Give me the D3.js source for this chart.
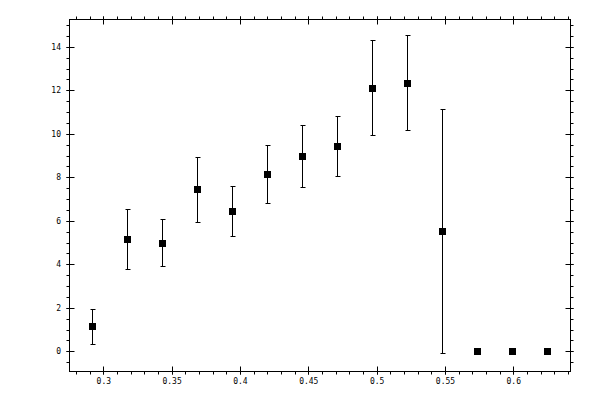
<!DOCTYPE html>
<html>
<head>
<meta charset="utf-8">
<script src="https://cdn.jsdelivr.net/npm/d3@7"></script>
<style>
  body { margin: 0; background: #fff; }
  svg { display: block; }
  text { font-family: "DejaVu Sans Mono", monospace; font-size: 8px; fill: #000; }
</style>
</head>
<body>
<div id="vis"></div>
<script>
//data
const X_VALUES = [0.292, 0.3176, 0.3432, 0.3688, 0.3944, 0.42, 0.4456, 0.4712, 0.4968, 0.5224, 0.548, 0.5736, 0.5992, 0.6248];
const Y_VALUES = [1.15, 5.15, 4.97, 7.45, 6.44, 8.14, 8.97, 9.43, 12.09, 12.32, 5.53, 0, 0, 0];
const ERR_LOW = [0.32, 3.78, 3.91, 5.93, 5.29, 6.82, 7.54, 8.05, 9.93, 10.16, -0.07, null, null, null];
const ERR_HIGH = [1.96, 6.53, 6.07, 8.93, 7.59, 9.47, 10.39, 10.80, 14.30, 14.53, 11.13, null, null, null];
const X_TICKS = [0.3, 0.35, 0.4, 0.45, 0.5, 0.55, 0.6];
const X_TICK_LABELS = ["0.3", "0.35", "0.4", "0.45", "0.5", "0.55", "0.6"];
const Y_TICKS = [0, 2, 4, 6, 8, 10, 12, 14];

//frame
const FRAME_WIDTH = 600;
const FRAME_HEIGHT = 400;
const MARGINS = {left: 69, right: 30, top: 19, bottom: 29};
const VIS_WIDTH = FRAME_WIDTH - MARGINS.left - MARGINS.right;
const VIS_HEIGHT = FRAME_HEIGHT - MARGINS.top - MARGINS.bottom;

const FRAME = d3.select("#vis")
  .append("svg")
  .attr("width", FRAME_WIDTH)
  .attr("height", FRAME_HEIGHT);

const X_SCALE = d3.scaleLinear()
  .domain([0.2749, 0.6415])
  .range([MARGINS.left, MARGINS.left + VIS_WIDTH]);

const Y_SCALE = d3.scaleLinear()
  .domain([-0.906, 15.28])
  .range([MARGINS.top + VIS_HEIGHT, MARGINS.top]);

const x0 = MARGINS.left, x1 = MARGINS.left + VIS_WIDTH;
const y0 = MARGINS.top + VIS_HEIGHT, y1 = MARGINS.top;

//box
FRAME.append("rect")
  .attr("x", x0 + 0.5).attr("y", y1 + 0.5)
  .attr("width", VIS_WIDTH).attr("height", VIS_HEIGHT)
  .attr("fill", "none").attr("stroke", "#000").attr("stroke-width", 1);

//minor ticks, outward
const X_MINOR = d3.range(28, 65).map((d) => d / 100);
const Y_MINOR = d3.range(-1, 31).map((d) => d / 2).filter((d) => d > -0.906 && d < 15.28);
const ticks = FRAME.append("g").attr("stroke", "#000").attr("stroke-width", 1);

X_MINOR.forEach((v) => {
  const px = Math.round(X_SCALE(v)) + 0.5;
  ticks.append("line").attr("x1", px).attr("x2", px).attr("y1", y0 + 0.5).attr("y2", y0 + 3.5);
  ticks.append("line").attr("x1", px).attr("x2", px).attr("y1", y1 + 0.5).attr("y2", y1 - 2.5);
});
Y_MINOR.forEach((v) => {
  const py = Math.round(Y_SCALE(v)) + 0.5;
  ticks.append("line").attr("y1", py).attr("y2", py).attr("x1", x0 + 0.5).attr("x2", x0 - 2.5);
  ticks.append("line").attr("y1", py).attr("y2", py).attr("x1", x1 + 0.5).attr("x2", x1 + 3.5);
});

//major ticks, crossing the frame
X_TICKS.forEach((v) => {
  const px = Math.round(X_SCALE(v)) + 0.5;
  ticks.append("line").attr("x1", px).attr("x2", px).attr("y1", y0 + 3.5).attr("y2", y0 - 4.5);
  ticks.append("line").attr("x1", px).attr("x2", px).attr("y1", y1 - 2.5).attr("y2", y1 + 5.5);
});
Y_TICKS.forEach((v) => {
  const py = Math.round(Y_SCALE(v)) + 0.5;
  ticks.append("line").attr("y1", py).attr("y2", py).attr("x1", x0 - 2.5).attr("x2", x0 + 5.5);
  ticks.append("line").attr("y1", py).attr("y2", py).attr("x1", x1 + 3.5).attr("x2", x1 - 4.5);
});

//tick labels
FRAME.append("g").selectAll("text")
  .data(X_TICKS)
  .enter().append("text")
  .attr("x", (d) => X_SCALE(d) + 0.5)
  .attr("y", y0 + 13)
  .attr("text-anchor", "middle")
  .text((d, i) => X_TICK_LABELS[i]);

FRAME.append("g").selectAll("text")
  .data(Y_TICKS)
  .enter().append("text")
  .attr("x", x0 - 8)
  .attr("y", (d) => Y_SCALE(d) + 3)
  .attr("text-anchor", "end")
  .text((d) => d);

//error bars
const points = X_VALUES.map((x, i) => ({x: x, y: Y_VALUES[i], lo: ERR_LOW[i], hi: ERR_HIGH[i]}));
const bars = FRAME.append("g").attr("stroke", "#000").attr("stroke-width", 1);
points.filter((d) => d.lo !== null).forEach((d) => {
  const px = Math.round(X_SCALE(d.x)) + 0.5;
  const lo = Math.round(Y_SCALE(d.lo)) + 0.5;
  const hi = Math.round(Y_SCALE(d.hi)) + 0.5;
  bars.append("line").attr("x1", px).attr("x2", px).attr("y1", lo).attr("y2", hi);
  bars.append("line").attr("x1", px - 2).attr("x2", px + 3).attr("y1", lo).attr("y2", lo);
  bars.append("line").attr("x1", px - 2).attr("x2", px + 3).attr("y1", hi).attr("y2", hi);
});

//square markers
FRAME.append("g").selectAll("rect")
  .data(points)
  .enter().append("rect")
  .attr("x", (d) => Math.round(X_SCALE(d.x)) - 3)
  .attr("y", (d) => Math.round(Y_SCALE(d.y)) - 3)
  .attr("width", 7)
  .attr("height", 7)
  .attr("fill", "#000");
</script>
</body>
</html>
